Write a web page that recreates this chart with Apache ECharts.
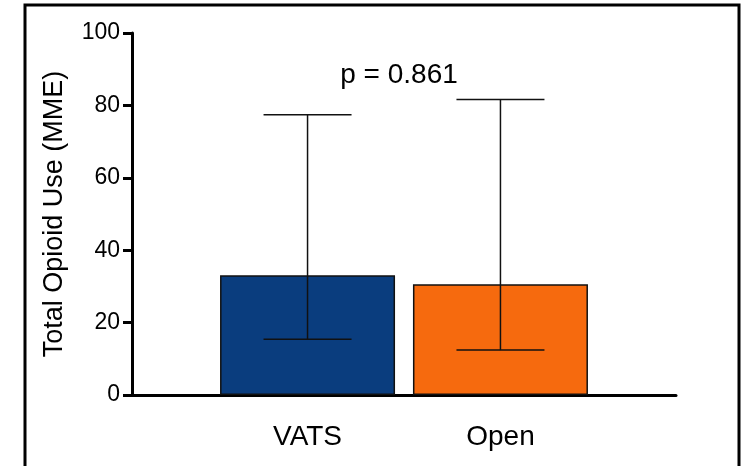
<!DOCTYPE html>
<html>
<head>
<meta charset="utf-8">
<script src="https://cdn.jsdelivr.net/npm/echarts@6/dist/echarts.min.js"></script>
<style>
  html, body { margin: 0; padding: 0; background: #fff; }
  #chart { width: 747px; height: 466px; }
</style>
</head>
<body>
<div id="chart"></div>
<script>
// groups and values
const categories = ['VATS', 'Open']
const means = [33.1, 30.6]
const errHigh = [77.4, 81.6]
const errLow = [15.4, 12.4]
const barColors = ['#0A3D7E', '#F66A0E']
const yTicks = [0, 20, 40, 60, 80, 100]
const pLabel = 'p = 0.861'

const FONT = '"Liberation Sans", Arial, sans-serif'

const chart = echarts.init(document.getElementById('chart'))

// bars sit at x = 1, 2 on a value axis so the axis line can run past them
const barData = categories.map((c, i) => ({
  value: [i + 1, means[i]],
  itemStyle: { color: barColors[i] },
}))
const errData = categories.map((c, i) => [i + 1, errLow[i], errHigh[i]])

const option = {
  animation: false,
  backgroundColor: '#fff',
  grid: { left: 132, right: 71, top: 33, bottom: 71 },
  xAxis: {
    type: 'value',
    min: 0.09,
    max: 2.91,
    axisLine: { lineStyle: { color: '#000', width: 3 } },
    axisTick: { show: false },
    splitLine: { show: false },
    axisLabel: {
      customValues: [1, 2],
      formatter: (v) => categories[Math.round(v) - 1] || '',
      color: '#000',
      fontSize: 28,
      fontFamily: FONT,
      margin: 28,
    },
  },
  yAxis: {
    type: 'value',
    min: yTicks[0],
    max: yTicks[yTicks.length - 1],
    interval: 20,
    name: 'Total Opioid Use (MME)',
    nameLocation: 'middle',
    nameGap: 64,
    nameRotate: 90,
    nameTextStyle: { color: '#000', fontSize: 27, fontFamily: FONT },
    axisLine: { show: true, lineStyle: { color: '#000', width: 3 } },
    axisTick: { show: true, length: 9, lineStyle: { color: '#000', width: 3 } },
    splitLine: { show: false },
    axisLabel: { color: '#000', fontSize: 23, fontFamily: FONT, margin: 12 },
  },
  series: [
    {
      type: 'bar',
      data: barData,
      barWidth: 175,
      itemStyle: { borderColor: '#111', borderWidth: 1.5 },
      z: 2,
    },
    {
      type: 'custom',
      data: errData,
      z: 5,
      renderItem: (params, api) => {
        const x = api.value(0)
        const lo = api.coord([x, api.value(1)])
        const hi = api.coord([x, api.value(2)])
        const half = 44
        const style = { stroke: '#111', lineWidth: 1.5 }
        return {
          type: 'group',
          children: [
            { type: 'line', shape: { x1: lo[0], y1: lo[1], x2: hi[0], y2: hi[1] }, style },
            { type: 'line', shape: { x1: hi[0] - half, y1: hi[1], x2: hi[0] + half, y2: hi[1] }, style },
            { type: 'line', shape: { x1: lo[0] - half, y1: lo[1], x2: lo[0] + half, y2: lo[1] }, style },
          ],
        }
      },
    },
  ],
  graphic: [
    {
      type: 'text',
      x: 399,
      y: 75,
      style: {
        text: pLabel,
        fill: '#000',
        fontSize: 28,
        fontFamily: FONT,
        textAlign: 'center',
        textVerticalAlign: 'middle',
      },
    },
    // outer frame (open at the bottom, as in the figure)
    {
      type: 'polyline',
      shape: { points: [[25, 470], [25, 5], [739, 5], [739, 470]] },
      style: { stroke: '#000', lineWidth: 3, fill: null },
      silent: true,
    },
  ],
}

chart.setOption(option)
</script>
</body>
</html>
